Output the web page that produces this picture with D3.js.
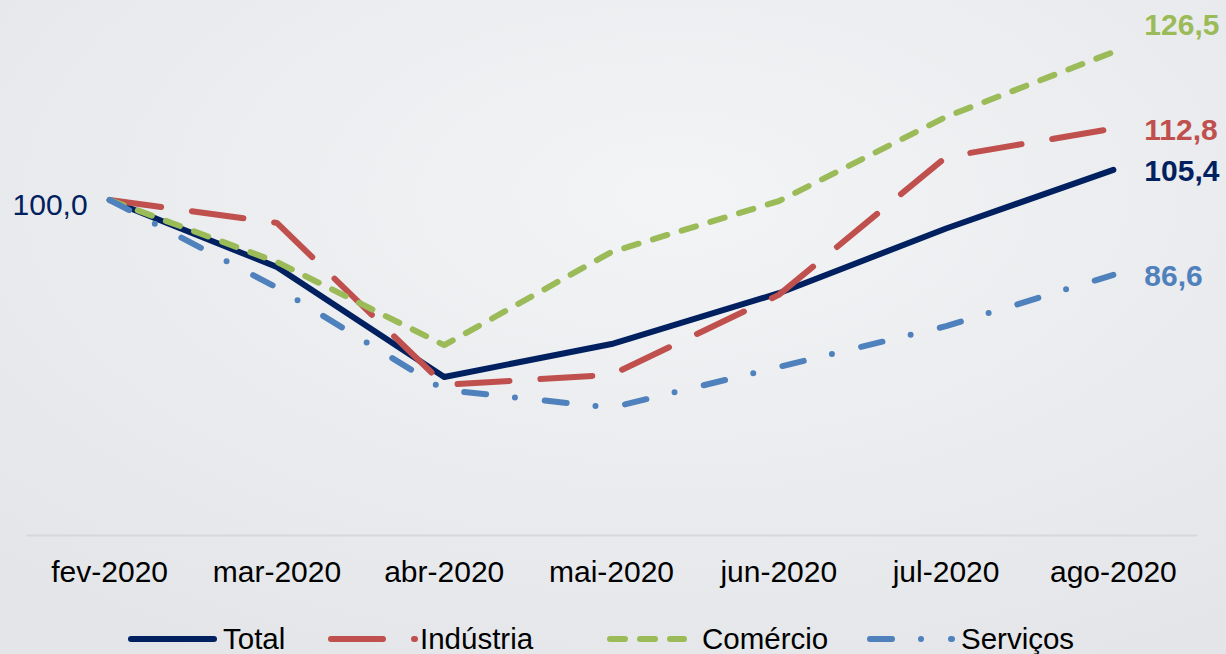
<!DOCTYPE html>
<html>
<head>
<meta charset="utf-8">
<script src="https://cdn.jsdelivr.net/npm/d3@7"></script>
<style>
  html, body { margin: 0; padding: 0; background: #eceef0; }
  svg { display: block; }
  text { font-family: "Liberation Sans", Arial, sans-serif; }
</style>
</head>
<body>
<svg id="chart" width="1226" height="654"></svg>
<script>
// Índice (fev-2020 = 100) por setor
const categories = ["fev-2020", "mar-2020", "abr-2020", "mai-2020", "jun-2020", "jul-2020", "ago-2020"];
const total     = [100.0, 88.0, 68.3, 74.2, 83.3, 94.9, 105.4];
const industria = [100.0, 95.9, 66.9, 68.7, 83.0, 107.7, 112.8];
const comercio  = [100.0, 88.9, 74.0, 90.7, 99.8, 114.9, 126.5];
const servicos  = [100.0, 84.3, 66.0, 62.8, 70.1, 77.4, 86.6];
const seriesNames = ["Total", "Indústria", "Comércio", "Serviços"];
const startLabel = "100,0";

const fmt = v => v.toFixed(1).replace(".", ",");

// Series appearance (drawing order: last is on top)
const styles = [
  { values: total,     color: "#002060", dash: null,          labelDy: 11 },
  { values: industria, color: "#C0504D", dash: "52 31",       labelDy: 11 },
  { values: comercio,  color: "#9BBB59", dash: "15 15",       labelDy: -17 },
  { values: servicos,  color: "#4F81BD", dash: "22 29 0 30",  labelDy: 11 }
];

const svg = d3.select("#chart");
const W = 1226, H = 654;

// Background: soft light-gray gradient
const defs = svg.append("defs");
const grad = defs.append("radialGradient")
  .attr("id", "bg").attr("cx", "55%").attr("cy", "30%").attr("r", "80%");
grad.append("stop").attr("offset", "0%").attr("stop-color", "#f3f4f6");
grad.append("stop").attr("offset", "100%").attr("stop-color", "#e3e5e8");
svg.append("rect").attr("width", W).attr("height", H).attr("fill", "url(#bg)");

const x = d3.scaleBand().domain(categories).range([26, 1197]);
const cx = c => x(c) + x.bandwidth() / 2;
const y = d3.scaleLinear().domain([40, 130]).range([535, 32.5]);

// Category axis
const axisG = svg.append("g").attr("transform", `translate(0,${y(40)})`)
  .call(d3.axisBottom(x).tickSize(0).tickPadding(26));
axisG.select(".domain").attr("stroke", "#d6d8db").attr("stroke-width", 2);
axisG.selectAll(".tick text")
  .attr("font-size", 30)
  .attr("font-family", "'Liberation Sans', Arial, sans-serif")
  .attr("fill", "#000");

// Lines
const line = d3.line()
  .x((d, i) => cx(categories[i]))
  .y(d => y(d));

styles.forEach(s => {
  svg.append("path")
    .datum(s.values)
    .attr("d", line)
    .attr("fill", "none")
    .attr("stroke", s.color)
    .attr("stroke-width", 6)
    .attr("stroke-linecap", "round")
    .attr("stroke-linejoin", "round")
    .attr("stroke-dasharray", s.dash);
});

// Starting value label
svg.append("text")
  .attr("x", cx(categories[0]) - 22)
  .attr("y", y(total[0]) + 15)
  .attr("text-anchor", "end")
  .attr("font-size", 30)
  .attr("fill", "#002060")
  .text(startLabel);

// End value labels
const last = categories.length - 1;
styles.forEach(s => {
  const v = s.values[last];
  svg.append("text")
    .attr("x", cx(categories[last]) + 31)
    .attr("y", y(v) + s.labelDy)
    .attr("font-size", 30)
    .attr("font-weight", "bold")
    .attr("fill", s.color)
    .text(fmt(v));
});

// Legend (sample lengths run 1px into the next dash so its cap shows as a dot)
const legendItems = [
  { x: 131, len: 83 },
  { x: 331, len: 84 },
  { x: 610, len: 74 },
  { x: 870, len: 82 }
];
const textX = [223, 420, 702, 961];
const ly = 639;
styles.forEach((s, i) => {
  const it = legendItems[i];
  svg.append("path")
    .attr("d", `M${it.x},${ly}H${it.x + it.len}`)
    .attr("fill", "none")
    .attr("stroke", s.color)
    .attr("stroke-width", 6)
    .attr("stroke-linecap", "round")
    .attr("stroke-dasharray", s.dash);
  svg.append("text")
    .attr("x", textX[i])
    .attr("y", ly + 10)
    .attr("font-size", 29.5)
    .attr("fill", "#000")
    .text(seriesNames[i]);
});
</script>
</body>
</html>
